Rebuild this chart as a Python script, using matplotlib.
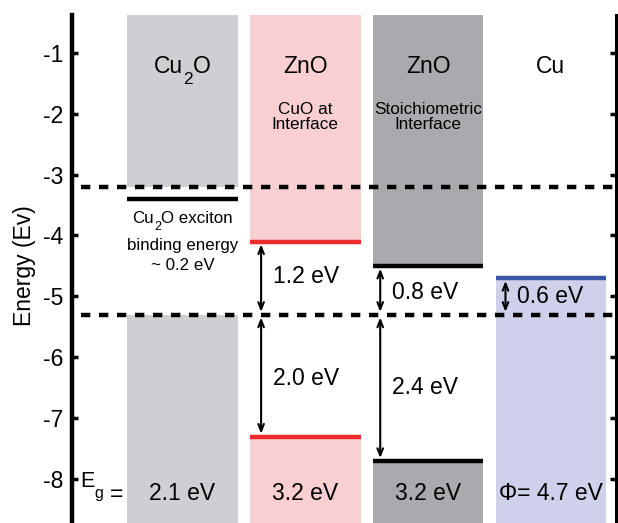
import matplotlib
matplotlib.use("Agg")
import matplotlib.pyplot as plt

plt.rcParams['font.family'] = ['Liberation Sans', 'DejaVu Sans']
plt.rcParams['mathtext.fontset'] = 'custom'
plt.rcParams['mathtext.rm'] = 'Liberation Sans'

# ---- data ----
materials = [[('Cu', 0), ('2', 1), ('O', 0)], [('ZnO', 0)], [('ZnO', 0)], [('Cu', 0)]]
subtitles = ['', 'CuO at\nInterface', 'Stoichiometric\nInterface', '']
upper_edge = [-3.2, -4.1, -4.5, None]      # bottom of upper (conduction) block
lower_edge = [-5.3, -7.3, -7.7, -4.7]      # top of lower (valence / metal) block
fill_colors = ['#cdcfd2', '#f9cfd2', '#a9aaad', '#cfd0ea']
upper_lines = [-3.4, -4.1, -4.5, None]
lower_lines = [None, -7.3, -7.7, -4.7]
line_colors = ['black', '#ee2b2b', 'black', '#3c55a6']
gap_labels = ['2.1 eV', '3.2 eV', '3.2 eV', 'Φ= 4.7 eV']
ref_levels = [-3.2, -5.3]

arrow_top = [-4.1, -4.5, -4.7]
arrow_mid = [-5.3, -5.3, -5.3]
arrow_bot = [-7.3, -7.7, None]
arrow_labels_upper = ['1.2 eV', '0.8 eV', '0.6 eV']
arrow_labels_lower = ['2.0 eV', '2.4 eV', None]

yticks = [-1, -2, -3, -4, -5, -6, -7, -8]

# advance widths (em) of Liberation Sans glyphs, for composing subscripts
ADV = {'C': .722, 'u': .556, 'O': .778, '2': .556, ' ': .278, 'e': .556, 'x': .5,
       'c': .5, 'i': .222, 't': .278, 'o': .556, 'n': .556, 'E': .667, 'g': .556,
       '=': .584, 'Z': .611}
SUB_SCALE = 0.75


def part_width(s, sub, fs):
    return sum(ADV.get(ch, .556) for ch in s) * fs * (SUB_SCALE if sub else 1.0)


def sub_text(ax, x, y, parts, fs, ha='center', drop=0.48):
    total = sum(part_width(s, sub, fs) for s, sub in parts)
    start = -total / 2 if ha == 'center' else 0.0
    off = start
    for s, sub in parts:
        size = fs * SUB_SCALE if sub else fs
        dy = -drop * fs if sub else 0.0
        ax.annotate(s, xy=(x, y), xytext=(off, dy), textcoords='offset points',
                    ha='left', va='baseline', fontsize=size, zorder=6)
        off += part_width(s, sub, fs)


fig = plt.figure(figsize=(6.18, 5.23), dpi=100)
ax = fig.add_axes([72/618, 0.0, (616-72)/618, 1 - 15/523])

x = [1, 2, 3, 4]
w = 0.9
ytop, ybot = -0.38, -8.72
FS = 16.5

for i in range(4):
    if upper_edge[i] is not None:
        ax.bar(x[i], 10, bottom=upper_edge[i], width=w, color=fill_colors[i], zorder=1)
    ax.bar(x[i], -10, bottom=lower_edge[i], width=w, color=fill_colors[i], zorder=1)
    if upper_lines[i] is not None:
        ax.hlines(upper_lines[i], x[i]-w/2, x[i]+w/2, color=line_colors[i], lw=3.2, zorder=3)
    if lower_lines[i] is not None:
        ax.hlines(lower_lines[i], x[i]-w/2, x[i]+w/2, color=line_colors[i], lw=3.2, zorder=3)
    sub_text(ax, x[i], -1.34, materials[i], FS)
    if subtitles[i]:
        ax.text(x[i], -2.06, subtitles[i], ha='center', va='center', fontsize=12.3,
                linespacing=1.0, zorder=5)
    ax.text(x[i], -8.23, gap_labels[i], ha='center', va='center', fontsize=FS, zorder=5)

sub_text(ax, 0.165, -8.13, [('E', 0), ('g', 1)], 15.5, ha='left', drop=0.5)
ax.text(0.405, -8.25, '=', ha='left', va='center', fontsize=FS, zorder=5)

sub_text(ax, x[0], -3.8, [('Cu', 0), ('2', 1), ('O exciton', 0)], 12.2, drop=0.42)
ax.text(x[0], -4.16, 'binding energy', ha='center', va='center', fontsize=12.2, zorder=5)
ax.text(x[0], -4.5, '~ 0.2 eV', ha='center', va='center', fontsize=12.2, zorder=5)

for lv in ref_levels:
    ax.plot([0.17, 4.53], [lv, lv], color='black', lw=3.2, dashes=(2.1, 1.95), zorder=4,
            dash_capstyle='butt')

arrow_x = [1.64, 2.61, 3.63]
label_x = [1.735, 2.705, 3.725]
upper_label_y = [-4.67, -4.93, -5.0]
lower_label_y = [-6.35, -6.5, None]
for j in range(3):
    ap = dict(arrowstyle='<->,head_length=0.5,head_width=0.2', lw=1.5, color='black',
              shrinkA=2, shrinkB=2)
    ax.annotate('', xy=(arrow_x[j], arrow_top[j]), xytext=(arrow_x[j], arrow_mid[j]),
                arrowprops=ap, zorder=5)
    ax.text(label_x[j], upper_label_y[j], arrow_labels_upper[j], ha='left', va='center',
            fontsize=FS, zorder=5)
    if arrow_bot[j] is not None:
        ax.annotate('', xy=(arrow_x[j], arrow_mid[j]), xytext=(arrow_x[j], arrow_bot[j]),
                    arrowprops=ap, zorder=5)
        ax.text(label_x[j], lower_label_y[j], arrow_labels_lower[j], ha='left', va='center',
                fontsize=FS, zorder=5)

ax.set_xlim(0.10, 4.53)
ax.set_ylim(ybot, ytop)
ax.set_xticks([])
ax.set_yticks(yticks)
ax.set_yticklabels([str(t) for t in yticks], fontsize=FS)
ax.tick_params(axis='y', direction='in', length=4, width=2.5, right=True, pad=6)
ax.spines['top'].set_visible(False)
ax.spines['bottom'].set_visible(False)
ax.spines['left'].set_linewidth(3.2)
ax.spines['right'].set_linewidth(2.2)
ax.set_ylabel('Energy (Ev)', fontsize=16.5)
ax.yaxis.set_label_coords(-0.066, 0.506)

fig.savefig('out.png', dpi=100)
